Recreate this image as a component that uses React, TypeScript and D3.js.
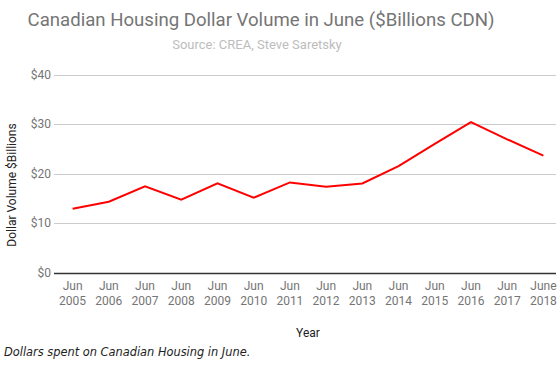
import React, { useEffect, useRef } from "react";
import * as d3 from "d3";

const years = ["2005", "2006", "2007", "2008", "2009", "2010", "2011", "2012", "2013", "2014", "2015", "2016", "2017", "2018"];
const monthLabels = ["Jun", "Jun", "Jun", "Jun", "Jun", "Jun", "Jun", "Jun", "Jun", "Jun", "Jun", "Jun", "Jun", "June"];
const volume = [12.9, 14.3, 17.4, 14.7, 18.0, 15.1, 18.2, 17.3, 18.0, 21.5, 26.0, 30.4, 26.9, 23.6];
const yTicks = [0, 10, 20, 30, 40];

const W = 560,
  H = 370;

export default function App() {
  const ref = useRef<SVGSVGElement>(null);

  useEffect(() => {
    const svg = d3.select(ref.current);
    svg.selectAll("*").remove();

    const font = "Roboto, sans-serif";

    const x = d3.scalePoint<string>().domain(years).range([54.5, 561.5]).padding(0.5);
    const y = d3.scaleLinear().domain([0, 40]).range([272.5, 74.5]);

    // gridlines
    svg
      .append("g")
      .selectAll("line")
      .data(yTicks.filter((t) => t > 0))
      .join("line")
      .attr("x1", 54)
      .attr("x2", 556)
      .attr("y1", (d) => Math.round(y(d)) + 0.5)
      .attr("y2", (d) => Math.round(y(d)) + 0.5)
      .attr("stroke", "#cccccc")
      .attr("stroke-width", 1);

    // y tick labels
    svg
      .append("g")
      .selectAll("text")
      .data(yTicks)
      .join("text")
      .attr("x", 51)
      .attr("y", (d) => y(d) + 4)
      .attr("text-anchor", "end")
      .attr("font-family", font)
      .attr("font-size", 12)
      .attr("fill", "#757575")
      .text((d) => "$" + d);

    // baseline
    svg
      .append("line")
      .attr("x1", 54)
      .attr("x2", 556)
      .attr("y1", Math.round(y(0)) + 0.5)
      .attr("y2", Math.round(y(0)) + 0.5)
      .attr("stroke", "#333333")
      .attr("stroke-width", 1.3);

    // x labels
    const xl = svg
      .append("g")
      .selectAll("text")
      .data(years)
      .join("text")
      .attr("text-anchor", "middle")
      .attr("font-family", font)
      .attr("font-size", 12)
      .attr("fill", "#757575");
    xl.append("tspan")
      .attr("x", (d) => x(d)!)
      .attr("y", 290)
      .text((d, i) => monthLabels[i]);
    xl.append("tspan")
      .attr("x", (d) => x(d)!)
      .attr("y", 305)
      .text((d) => d);

    // line
    const line = d3
      .line<number>()
      .x((d, i) => x(years[i])!)
      .y((d) => y(d));
    svg
      .append("path")
      .datum(volume)
      .attr("d", line)
      .attr("fill", "none")
      .attr("stroke", "#ff0000")
      .attr("stroke-width", 2);

    // titles
    svg
      .append("text")
      .attr("x", 261)
      .attr("y", 26)
      .attr("text-anchor", "middle")
      .attr("font-family", font)
      .attr("font-size", 18.6)
      .attr("fill", "#757575")
      .text("Canadian Housing Dollar Volume in June ($Billions CDN)");

    svg
      .append("text")
      .attr("x", 257)
      .attr("y", 49)
      .attr("text-anchor", "middle")
      .attr("font-family", font)
      .attr("font-size", 13)
      .attr("fill", "#bdbdbd")
      .text("Source: CREA, Steve Saretsky");

    svg
      .append("text")
      .attr("x", 308)
      .attr("y", 337)
      .attr("text-anchor", "middle")
      .attr("font-family", font)
      .attr("font-size", 12)
      .attr("fill", "#222222")
      .text("Year");

    svg
      .append("text")
      .attr("transform", "translate(16,185) rotate(-90)")
      .attr("text-anchor", "middle")
      .attr("font-family", font)
      .attr("font-size", 12)
      .attr("fill", "#222222")
      .text("Dollar Volume $Billions");

    svg
      .append("text")
      .attr("x", 4)
      .attr("y", 356)
      .attr("font-family", "'DejaVu Sans', Verdana, sans-serif")
      .attr("font-style", "italic")
      .attr("font-size", 11.4)
      .attr("fill", "#222222")
      .text("Dollars spent on Canadian Housing in June.");
  }, []);

  return (
    <svg
      ref={ref}
      width={W}
      height={H}
      style={{ position: "absolute", left: 0, top: 0, background: "#fff" }}
    />
  );
}
